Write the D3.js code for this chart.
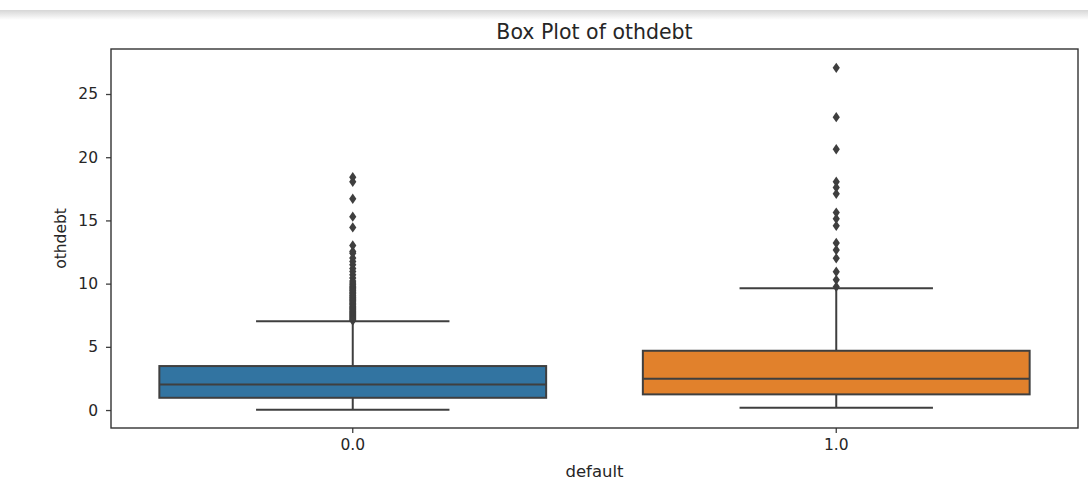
<!DOCTYPE html>
<html>
<head>
<meta charset="utf-8">
<script src="https://cdn.jsdelivr.net/npm/d3@7"></script>
<style>
  html, body { margin: 0; padding: 0; background: #ffffff; }
  svg { display: block; font-family: "DejaVu Sans", sans-serif; }
</style>
</head>
<body>
<svg id="chart" width="1088" height="484"></svg>
<script>
// ---- data ----
const categories = ["0.0", "1.0"];
const lowerWhisker = [0.02, 0.18];
const q1 = [0.97, 1.24];
const median = [2.03, 2.48];
const q3 = [3.48, 4.69];
const upperWhisker = [7.03, 9.63];
const outliers0 = [18.42, 18.06, 16.72, 15.3, 14.45, 13.02, 12.55, 12.4, 12.02, 11.75, 11.5,
  11.2, 10.95, 10.7, 10.45, 10.2, 10.05, 9.92, 9.8, 9.7, 9.6, 9.5, 9.42, 9.3, 9.22, 9.1, 9.02,
  8.92, 8.85, 8.75, 8.66, 8.57, 8.47, 8.38, 8.3, 8.2, 8.12, 8.03, 7.95, 7.86, 7.78, 7.7, 7.62,
  7.54, 7.46, 7.38, 7.3, 7.22, 7.15, 7.08];
const outliers1 = [27.07, 23.17, 20.63, 18.06, 17.6, 17.1, 15.62, 15.13, 14.57, 13.21, 12.66,
  12.0, 10.94, 10.3, 9.75];
const outliers = [outliers0, outliers1];
const yTicks = [0, 5, 10, 15, 20, 25];
const boxColors = ["#3274a1", "#e1812c"];

const title = "Box Plot of othdebt";
const xLabel = "default";
const yLabel = "othdebt";

// ---- layout ----
const plot = { left: 111, right: 1078, top: 49, bottom: 428 };
const lineColor = "#3f3f3f";
const textColor = "#262626";

const svg = d3.select("#chart");

// window chrome strip above the figure
const defs = svg.append("defs");
const grad = defs.append("linearGradient").attr("id", "strip").attr("x1", 0).attr("x2", 0).attr("y1", 0).attr("y2", 1);
grad.append("stop").attr("offset", "0%").attr("stop-color", "#d6d6d6");
grad.append("stop").attr("offset", "100%").attr("stop-color", "#ffffff");
svg.append("rect").attr("x", 0).attr("y", 10).attr("width", 1088).attr("height", 10).attr("fill", "url(#strip)");

const x = d3.scaleBand()
  .domain(categories)
  .range([plot.left, plot.right])
  .paddingInner(0)
  .paddingOuter(0);
const y = d3.scaleLinear().domain([-1.42, 28.56]).range([plot.bottom, plot.top]);

const boxW = x.bandwidth() * 0.8;
const capW = boxW * 0.5;
const cx = c => x(c) + x.bandwidth() / 2;
const lw = 2;

// ---- boxes ----
const g = svg.append("g");
categories.forEach((c, i) => {
  const grp = g.append("g");
  const xc = cx(c);
  // whiskers
  grp.append("line").attr("x1", xc).attr("x2", xc).attr("y1", y(q1[i])).attr("y2", y(lowerWhisker[i]))
    .attr("stroke", lineColor).attr("stroke-width", lw);
  grp.append("line").attr("x1", xc).attr("x2", xc).attr("y1", y(q3[i])).attr("y2", y(upperWhisker[i]))
    .attr("stroke", lineColor).attr("stroke-width", lw);
  // caps
  [lowerWhisker[i], upperWhisker[i]].forEach(v => {
    grp.append("line").attr("x1", xc - capW / 2).attr("x2", xc + capW / 2).attr("y1", y(v)).attr("y2", y(v))
      .attr("stroke", lineColor).attr("stroke-width", lw);
  });
  // box
  grp.append("rect")
    .attr("x", xc - boxW / 2).attr("width", boxW)
    .attr("y", y(q3[i])).attr("height", y(q1[i]) - y(q3[i]))
    .attr("fill", boxColors[i]).attr("stroke", lineColor).attr("stroke-width", lw);
  // median
  grp.append("line").attr("x1", xc - boxW / 2).attr("x2", xc + boxW / 2).attr("y1", y(median[i])).attr("y2", y(median[i]))
    .attr("stroke", lineColor).attr("stroke-width", lw);
  // fliers
  grp.selectAll("path.flier").data(outliers[i]).join("path")
    .attr("class", "flier")
    .attr("d", "M0,-5.2L3.6,0L0,5.2L-3.6,0Z")
    .attr("transform", d => `translate(${xc},${y(d)})`)
    .attr("fill", lineColor);
});

// ---- axes ----
const yAxis = svg.append("g").attr("transform", `translate(${plot.left},0)`)
  .call(d3.axisLeft(y).tickValues(yTicks).tickSize(5).tickPadding(8).tickFormat(d3.format("d")));
const xAxis = svg.append("g").attr("transform", `translate(0,${plot.bottom})`)
  .call(d3.axisBottom(x).tickSize(5).tickPadding(6));
[yAxis, xAxis].forEach(ax => {
  ax.select(".domain").remove();
  ax.selectAll(".tick line").attr("stroke", lineColor).attr("stroke-width", 1.3);
  ax.selectAll(".tick text").attr("fill", textColor).style("font-size", "15.5px").style("font-family", "DejaVu Sans");
});

// frame
svg.append("rect")
  .attr("x", plot.left).attr("y", plot.top)
  .attr("width", plot.right - plot.left).attr("height", plot.bottom - plot.top)
  .attr("fill", "none").attr("stroke", "#333333").attr("stroke-width", 1.4);

// ---- labels ----
svg.append("text").attr("x", (plot.left + plot.right) / 2).attr("y", 39)
  .attr("text-anchor", "middle").attr("fill", textColor)
  .style("font-size", "20.5px").text(title);
svg.append("text").attr("x", (plot.left + plot.right) / 2).attr("y", 477)
  .attr("text-anchor", "middle").attr("fill", textColor)
  .style("font-size", "16.5px").text(xLabel);
svg.append("text")
  .attr("transform", `translate(66,${(plot.top + plot.bottom) / 2}) rotate(-90)`)
  .attr("text-anchor", "middle").attr("fill", textColor)
  .style("font-size", "15.5px").text(yLabel);
</script>
</body>
</html>
